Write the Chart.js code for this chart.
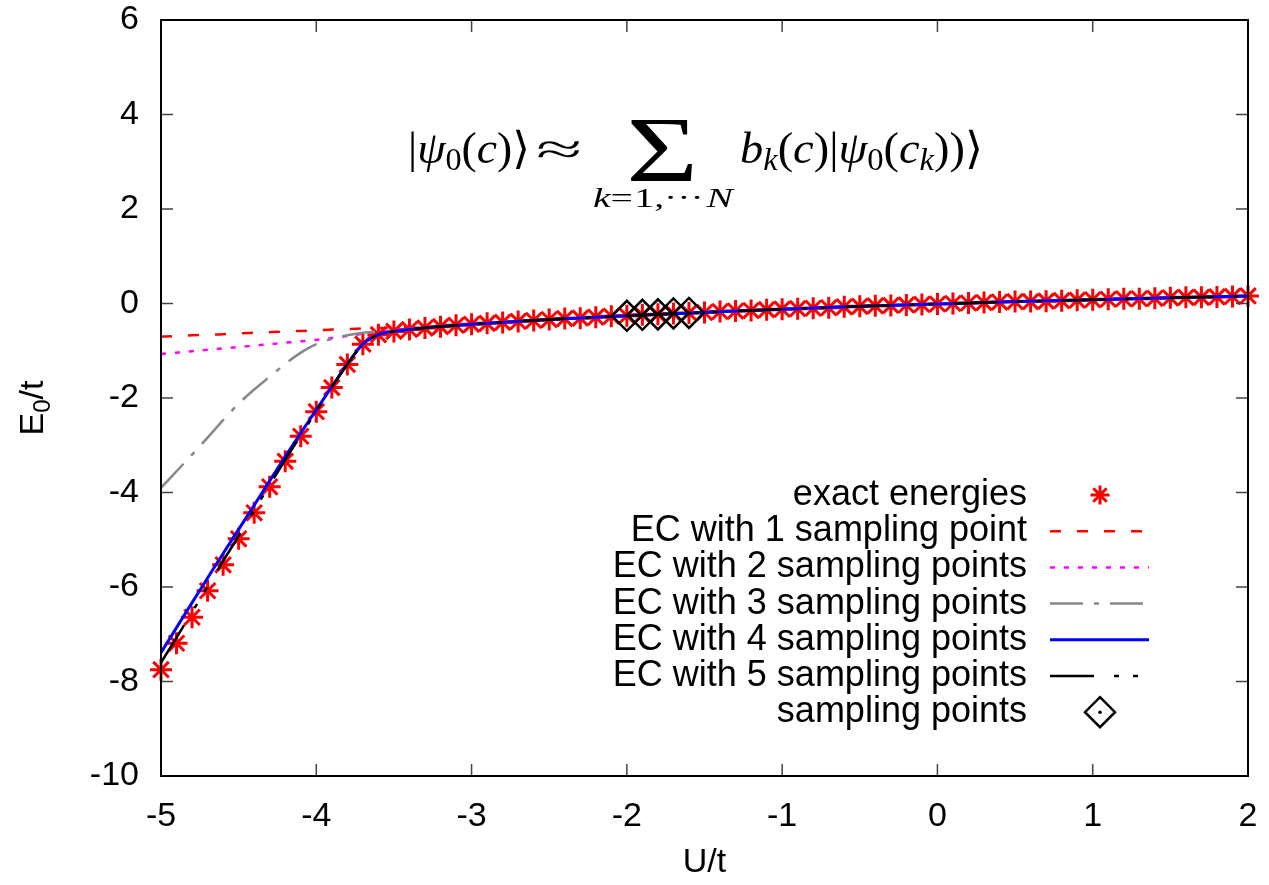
<!DOCTYPE html>
<html><head><meta charset="utf-8">
<script src="https://cdn.jsdelivr.net/npm/chart.js@4.4.0/dist/chart.umd.min.js"></script>
<style>html,body{margin:0;padding:0;background:#fff;}canvas{display:block;}</style>
</head><body>
<canvas id="c" width="1269" height="885"></canvas>
<script>
// ---------- data ----------
const xExact = [-5,-4.9,-4.8,-4.7,-4.6,-4.5,-4.4,-4.3,-4.2,-4.1,-4,-3.9,-3.8,-3.7,-3.6,-3.5,-3.4,-3.3,-3.2,-3.1,-3,-2.9,-2.8,-2.7,-2.6,-2.5,-2.4,-2.3,-2.2,-2.1,-2,-1.9,-1.8,-1.7,-1.6,-1.5,-1.4,-1.3,-1.2,-1.1,-1,-0.9,-0.8,-0.7,-0.6,-0.5,-0.4,-0.3,-0.2,-0.1,0,0.1,0.2,0.3,0.4,0.5,0.6,0.7,0.8,0.9,1,1.1,1.2,1.3,1.4,1.5,1.6,1.7,1.8,1.9,2];
const yExact = [-7.75,-7.19,-6.64,-6.08,-5.53,-4.98,-4.43,-3.88,-3.34,-2.81,-2.29,-1.78,-1.29,-0.86,-0.66,-0.59,-0.55,-0.52,-0.49,-0.46,-0.44,-0.42,-0.40,-0.38,-0.36,-0.34,-0.32,-0.31,-0.29,-0.27,-0.26,-0.24,-0.23,-0.21,-0.20,-0.19,-0.17,-0.16,-0.15,-0.13,-0.12,-0.11,-0.10,-0.09,-0.07,-0.06,-0.05,-0.04,-0.03,-0.02,-0.01,0.00,0.01,0.02,0.03,0.04,0.04,0.05,0.06,0.07,0.08,0.09,0.10,0.10,0.11,0.12,0.13,0.13,0.14,0.15,0.16];

const xEC  = [-5,-4.9,-4.8,-4.7,-4.6,-4.5,-4.4,-4.3,-4.2,-4.1,-4,-3.9,-3.8,-3.7,-3.6,-3.5,-3.25,-3,-2.5,-2,-1.5,-1,-0.5,0,0.5,1,1.5,2];
const yEC1 = [-0.70,-0.69,-0.67,-0.66,-0.65,-0.63,-0.62,-0.61,-0.59,-0.58,-0.57,-0.55,-0.54,-0.53,-0.52,-0.51,-0.48,-0.44,-0.34,-0.26,-0.19,-0.12,-0.06,-0.01,0.04,0.08,0.12,0.16];
const yEC2 = [-1.07,-1.04,-1.01,-0.98,-0.95,-0.92,-0.89,-0.86,-0.83,-0.80,-0.77,-0.73,-0.69,-0.64,-0.60,-0.57,-0.50,-0.44,-0.34,-0.26,-0.19,-0.12,-0.06,-0.01,0.04,0.08,0.12,0.16];
const yEC3 = [-3.90,-3.55,-3.20,-2.84,-2.47,-2.12,-1.82,-1.55,-1.28,-1.04,-0.86,-0.75,-0.67,-0.62,-0.59,-0.57,-0.50,-0.44,-0.34,-0.26,-0.19,-0.12,-0.06,-0.01,0.04,0.08,0.12,0.16];
const yEC4 = [-7.39,-6.86,-6.33,-5.81,-5.29,-4.78,-4.27,-3.75,-3.24,-2.74,-2.25,-1.76,-1.28,-0.86,-0.66,-0.59,-0.50,-0.44,-0.34,-0.26,-0.19,-0.12,-0.06,-0.01,0.04,0.08,0.12,0.16];
const yEC5 = [-7.60,-7.07,-6.53,-5.99,-5.45,-4.92,-4.38,-3.84,-3.31,-2.79,-2.28,-1.77,-1.29,-0.86,-0.66,-0.59,-0.50,-0.44,-0.34,-0.26,-0.19,-0.12,-0.06,-0.01,0.04,0.08,0.12,0.16];

const xSampling = [-2,-1.9,-1.8,-1.7,-1.6];
const ySampling = [-0.26,-0.24,-0.23,-0.21,-0.20];

const xTicks = [-5,-4,-3,-2,-1,0,1,2];
const yTicks = [-10,-8,-6,-4,-2,0,2,4,6];
const xTickLabels = ['-5','-4','-3','-2','-1','0','1','2'];
const yTickLabels = ['-10','-8','-6','-4','-2','0','2','4','6'];

const seriesLabels = ['exact energies','EC with 1 sampling point','EC with 2 sampling points','EC with 3 sampling points','EC with 4 sampling points','EC with 5 sampling points','sampling points'];
const xTitle = 'U/t';

// ---------- chart ----------
const SANS = '"Liberation Sans", Arial, Helvetica, sans-serif';
const SERIF = '"Liberation Serif", "DejaVu Serif", serif';
const toXY = (xs, ys) => xs.map((x, i) => ({x: x, y: ys[i]}));

const datasets = [
  {label: seriesLabels[0], data: toXY(xExact, yExact), showLine: false, pointStyle: 'star', pointRadius: 11, pointHoverRadius: 11,
   borderColor: '#ff0000', backgroundColor: '#ff0000', pointBorderWidth: 3, order: 8, clip: false, legendKind: 'star'},
  {label: seriesLabels[1], data: toXY(xEC, yEC1), borderColor: '#ff0000', borderWidth: 2.5, borderDash: [11, 16], pointRadius: 0, order: 7, cubicInterpolationMode: 'monotone', legendKind: 'line'},
  {label: seriesLabels[2], data: toXY(xEC, yEC2), borderColor: '#ff00ff', borderWidth: 2.5, borderDash: [5, 9], pointRadius: 0, order: 6, cubicInterpolationMode: 'monotone', legendKind: 'line'},
  {label: seriesLabels[3], data: toXY(xEC, yEC3), borderColor: '#888888', borderWidth: 2.5, borderDash: [33, 11, 5, 11], pointRadius: 0, order: 5, cubicInterpolationMode: 'monotone', legendKind: 'line'},
  {label: seriesLabels[4], data: toXY(xEC, yEC4), borderColor: '#0000ff', borderWidth: 3, borderDash: [], pointRadius: 0, order: 4, cubicInterpolationMode: 'monotone', legendKind: 'line'},
  {label: seriesLabels[5], data: toXY(xEC, yEC5), borderColor: '#000000', borderWidth: 2.5, borderDash: [44, 20, 5, 14, 5, 20], pointRadius: 0, order: 3, cubicInterpolationMode: 'monotone', legendKind: 'line'},
  {label: seriesLabels[6], data: toXY(xSampling, ySampling), showLine: false, pointStyle: 'rectRot', pointRadius: 15, pointHoverRadius: 15,
   borderColor: '#000000', backgroundColor: 'rgba(0,0,0,0)', pointBorderWidth: 2.5, order: 2, clip: false, legendKind: 'diamond'},
  {label: '', data: toXY(xSampling, ySampling), showLine: false, pointStyle: 'circle', pointRadius: 1.8, pointHoverRadius: 1.8,
   borderColor: '#000000', backgroundColor: '#000000', pointBorderWidth: 0, order: 1, clip: false}
];

function drawStar(ctx, x, y, r, color, lw) {
  ctx.save(); ctx.strokeStyle = color; ctx.lineWidth = lw; ctx.setLineDash([]);
  ctx.beginPath();
  ctx.moveTo(x - r, y); ctx.lineTo(x + r, y);
  ctx.moveTo(x, y - r); ctx.lineTo(x, y + r);
  const d = r * Math.SQRT1_2;
  ctx.moveTo(x - d, y - d); ctx.lineTo(x + d, y + d);
  ctx.moveTo(x - d, y + d); ctx.lineTo(x + d, y - d);
  ctx.stroke(); ctx.restore();
}
function drawDiamond(ctx, x, y, r, lw) {
  ctx.save(); ctx.strokeStyle = '#000'; ctx.lineWidth = lw; ctx.setLineDash([]);
  ctx.beginPath(); ctx.moveTo(x, y - r); ctx.lineTo(x + r, y); ctx.lineTo(x, y + r); ctx.lineTo(x - r, y); ctx.closePath(); ctx.stroke();
  ctx.fillStyle = '#000'; ctx.beginPath(); ctx.arc(x, y, 1.8, 0, Math.PI * 2); ctx.fill();
  ctx.restore();
}
function drawRunFit(ctx, parts, x0, x1, baseline, size) {
  ctx.save();
  ctx.textAlign = 'left'; ctx.textBaseline = 'alphabetic'; ctx.fillStyle = '#000';
  let nat = 0;
  const ws = parts.map(p => {
    ctx.font = (p.it ? 'italic ' : '') + (p.s || size) + 'px ' + SERIF;
    const w = ctx.measureText(p.t).width + (p.sp || 0);
    nat += w; return w;
  });
  const sx = (x1 - x0) / nat;
  ctx.translate(x0, baseline); ctx.scale(sx, 1);
  let x = 0;
  parts.forEach((p, i) => {
    ctx.font = (p.it ? 'italic ' : '') + (p.s || size) + 'px ' + SERIF;
    ctx.fillText(p.t, x, p.dy || 0);
    x += ws[i];
  });
  ctx.restore();
}
function drawGlyphBox(ctx, t, font, bx0, by0, bx1, by1) {
  ctx.save(); ctx.font = font; ctx.textAlign = 'left'; ctx.textBaseline = 'alphabetic'; ctx.fillStyle = '#000';
  const m = ctx.measureText(t);
  const w = m.actualBoundingBoxLeft + m.actualBoundingBoxRight;
  const h = m.actualBoundingBoxAscent + m.actualBoundingBoxDescent;
  const sx = (bx1 - bx0) / w, sy = (by1 - by0) / h;
  ctx.translate(bx0 + m.actualBoundingBoxLeft * sx, by0 + m.actualBoundingBoxAscent * sy);
  ctx.scale(sx, sy);
  ctx.fillText(t, 0, 0); ctx.restore();
}

const decor = {
  id: 'decor',
  beforeDraw(chart) {
    const c = chart.ctx; c.save(); c.fillStyle = '#fff'; c.fillRect(0, 0, chart.width, chart.height); c.restore();
  },
  afterDraw(chart) {
    const c = chart.ctx, a = chart.chartArea, xs = chart.scales.x, ys = chart.scales.y;
    c.save();
    // inward tick marks (all four sides)
    c.strokeStyle = '#444'; c.lineWidth = 1.5; c.setLineDash([]);
    c.beginPath();
    xTicks.forEach(v => { const px = xs.getPixelForValue(v);
      c.moveTo(px, a.bottom); c.lineTo(px, a.bottom - 12); c.moveTo(px, a.top); c.lineTo(px, a.top + 12); });
    yTicks.forEach(v => { const py = ys.getPixelForValue(v);
      c.moveTo(a.left, py); c.lineTo(a.left + 12, py); c.moveTo(a.right, py); c.lineTo(a.right - 12, py); });
    c.stroke();
    // frame
    c.strokeStyle = '#000'; c.lineWidth = 2;
    c.strokeRect(a.left, a.top, a.right - a.left, a.bottom - a.top);

    // axis titles
    c.fillStyle = '#000'; c.textBaseline = 'alphabetic';
    c.font = '34px ' + SANS; c.textAlign = 'center';
    c.fillText(xTitle, (a.left + a.right) / 2, 872);
    // y title E_0/t rotated
    c.save();
    c.font = '34px ' + SANS; const wE = c.measureText('E').width, wT = c.measureText('/t').width;
    c.font = '24px ' + SANS; const w0 = c.measureText('0').width;
    const tot = wE + w0 + wT;
    c.translate(43, (a.top + a.bottom) / 2 + 10); c.rotate(-Math.PI / 2); c.textAlign = 'left';
    let xx = -tot / 2;
    c.font = '34px ' + SANS; c.fillText('E', xx, 0); xx += wE;
    c.font = '24px ' + SANS; c.fillText('0', xx, 7); xx += w0;
    c.font = '34px ' + SANS; c.fillText('/t', xx, 0);
    c.restore();

    // legend
    const rows = chart.data.datasets.filter(d => d.legendKind);
    rows.forEach((d, i) => {
      const ry = 495 + i * 36.2;
      c.font = '36px ' + SANS; c.textAlign = 'right'; c.fillStyle = '#000';
      c.fillText(d.label, 1027, ry + 10);
      if (d.legendKind === 'star') drawStar(c, 1100, ry, 9.5, d.borderColor, 3);
      else if (d.legendKind === 'diamond') drawDiamond(c, 1100, ry, 15, 2.5);
      else {
        c.save(); c.strokeStyle = d.borderColor; c.lineWidth = d.borderWidth; c.setLineDash(d.borderDash || []);
        c.beginPath(); c.moveTo(1050, ry); c.lineTo(1149, ry); c.stroke(); c.restore();
      }
    });

    // formula
    const S = 44, s = 31;
    drawRunFit(c, [{t: '|'}, {t: 'ψ', it: 1}, {t: '0', s: s, dy: 7}, {t: '('}, {t: 'c', it: 1}, {t: ')'}, {t: '⟩'}], 408, 530, 163, S);
    drawGlyphBox(c, '≈', S + 'px ' + SERIF, 538, 141, 580, 158);
    drawGlyphBox(c, 'Σ', '100px ' + SERIF, 630, 120, 693, 182);
    drawRunFit(c, [{t: 'k', it: 1}, {t: '=', sp: 1}, {t: '1'}, {t: ','}, {t: '···', sp: 2}, {t: 'N', it: 1}], 593, 733, 207, 28);
    drawRunFit(c, [{t: 'b', it: 1}, {t: 'k', it: 1, s: s, dy: 7}, {t: '('}, {t: 'c', it: 1}, {t: ')'}, {t: '|'}, {t: 'ψ', it: 1},
      {t: '0', s: s, dy: 7}, {t: '('}, {t: 'c', it: 1}, {t: 'k', it: 1, s: s, dy: 7}, {t: ')'}, {t: ')'}, {t: '⟩'}], 740, 983, 163, S);
    c.restore();
  }
};

const noPad = sc => { sc.paddingTop = 0; sc.paddingBottom = 0; sc.paddingLeft = 0; sc.paddingRight = 0; };

new Chart(document.getElementById('c').getContext('2d'), {
  type: 'line',
  data: {datasets: datasets},
  plugins: [decor],
  options: {
    responsive: false, animation: false, parsing: true,
    layout: {padding: {left: 0, right: 21, top: 20, bottom: 0}},
    plugins: {legend: {display: false}, tooltip: {enabled: false}},
    elements: {line: {fill: false, tension: 0}},
    scales: {
      x: {type: 'linear', min: -5, max: 2,
        afterBuildTicks: sc => { sc.ticks = xTicks.map(v => ({value: v})); },
        afterFit: sc => { sc.height = 109; noPad(sc); },
        grid: {display: false, drawTicks: false}, border: {display: false},
        ticks: {font: {family: SANS, size: 34}, color: '#000', padding: 20, maxRotation: 0, autoSkip: false,
          callback: (v) => xTickLabels[xTicks.indexOf(v)]}},
      y: {type: 'linear', min: -10, max: 6,
        afterBuildTicks: sc => { sc.ticks = yTicks.map(v => ({value: v})); },
        afterFit: sc => { sc.width = 161; noPad(sc); },
        grid: {display: false, drawTicks: false}, border: {display: false},
        ticks: {font: {family: SANS, size: 34}, color: '#000', padding: 22, autoSkip: false,
          callback: (v) => yTickLabels[yTicks.indexOf(v)]}}
    }
  }
});
</script>
</body></html>
